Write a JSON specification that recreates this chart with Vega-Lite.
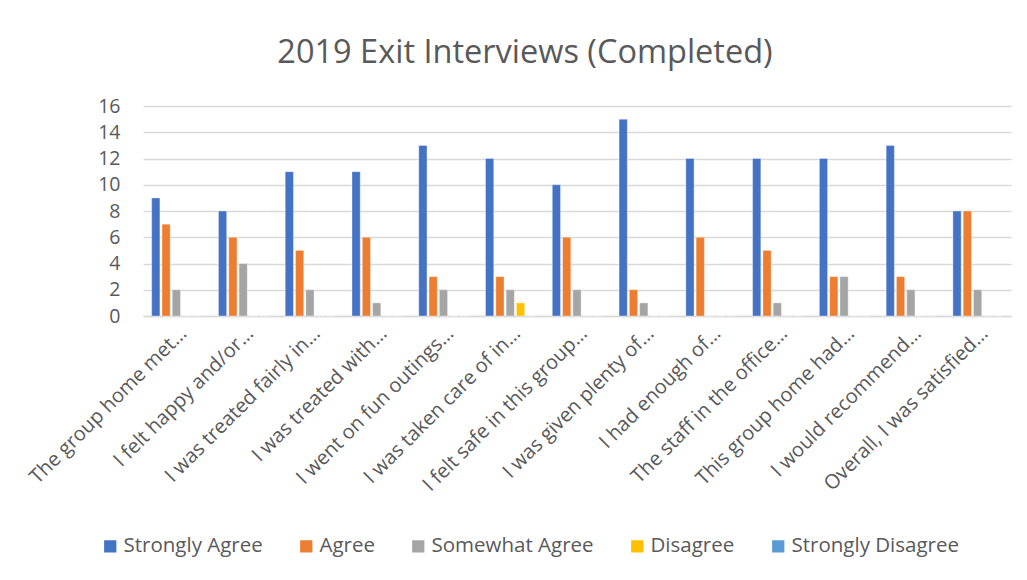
{
  "$schema": "https://vega.github.io/schema/vega-lite/v6.json",
  "width": 868,
  "height": 210,
  "autosize": {"type": "none"},
  "padding": {"left": 143, "top": 106, "right": 16, "bottom": 264},
  "background": "#ffffff",
  "title": {
    "text": "2019 Exit Interviews (Completed)",
    "font": "Open Sans",
    "fontSize": 32.5,
    "fontWeight": "normal",
    "color": "#595959",
    "anchor": "middle",
    "dx": -52,
    "offset": 27
  },
  "data": {
    "values": [
      {"q": "The group home met…", "r": "Strongly Agree", "n": 9},
      {"q": "The group home met…", "r": "Agree", "n": 7},
      {"q": "The group home met…", "r": "Somewhat Agree", "n": 2},
      {"q": "The group home met…", "r": "Disagree", "n": 0},
      {"q": "The group home met…", "r": "Strongly Disagree", "n": 0},
      {"q": "I felt happy and/or…", "r": "Strongly Agree", "n": 8},
      {"q": "I felt happy and/or…", "r": "Agree", "n": 6},
      {"q": "I felt happy and/or…", "r": "Somewhat Agree", "n": 4},
      {"q": "I felt happy and/or…", "r": "Disagree", "n": 0},
      {"q": "I felt happy and/or…", "r": "Strongly Disagree", "n": 0},
      {"q": "I was treated fairly in…", "r": "Strongly Agree", "n": 11},
      {"q": "I was treated fairly in…", "r": "Agree", "n": 5},
      {"q": "I was treated fairly in…", "r": "Somewhat Agree", "n": 2},
      {"q": "I was treated fairly in…", "r": "Disagree", "n": 0},
      {"q": "I was treated fairly in…", "r": "Strongly Disagree", "n": 0},
      {"q": "I was treated with…", "r": "Strongly Agree", "n": 11},
      {"q": "I was treated with…", "r": "Agree", "n": 6},
      {"q": "I was treated with…", "r": "Somewhat Agree", "n": 1},
      {"q": "I was treated with…", "r": "Disagree", "n": 0},
      {"q": "I was treated with…", "r": "Strongly Disagree", "n": 0},
      {"q": "I went on fun outings…", "r": "Strongly Agree", "n": 13},
      {"q": "I went on fun outings…", "r": "Agree", "n": 3},
      {"q": "I went on fun outings…", "r": "Somewhat Agree", "n": 2},
      {"q": "I went on fun outings…", "r": "Disagree", "n": 0},
      {"q": "I went on fun outings…", "r": "Strongly Disagree", "n": 0},
      {"q": "I was taken care of in…", "r": "Strongly Agree", "n": 12},
      {"q": "I was taken care of in…", "r": "Agree", "n": 3},
      {"q": "I was taken care of in…", "r": "Somewhat Agree", "n": 2},
      {"q": "I was taken care of in…", "r": "Disagree", "n": 1},
      {"q": "I was taken care of in…", "r": "Strongly Disagree", "n": 0},
      {"q": "I felt safe in this group…", "r": "Strongly Agree", "n": 10},
      {"q": "I felt safe in this group…", "r": "Agree", "n": 6},
      {"q": "I felt safe in this group…", "r": "Somewhat Agree", "n": 2},
      {"q": "I felt safe in this group…", "r": "Disagree", "n": 0},
      {"q": "I felt safe in this group…", "r": "Strongly Disagree", "n": 0},
      {"q": "I was given plenty of…", "r": "Strongly Agree", "n": 15},
      {"q": "I was given plenty of…", "r": "Agree", "n": 2},
      {"q": "I was given plenty of…", "r": "Somewhat Agree", "n": 1},
      {"q": "I was given plenty of…", "r": "Disagree", "n": 0},
      {"q": "I was given plenty of…", "r": "Strongly Disagree", "n": 0},
      {"q": "I had enough of…", "r": "Strongly Agree", "n": 12},
      {"q": "I had enough of…", "r": "Agree", "n": 6},
      {"q": "I had enough of…", "r": "Somewhat Agree", "n": 0},
      {"q": "I had enough of…", "r": "Disagree", "n": 0},
      {"q": "I had enough of…", "r": "Strongly Disagree", "n": 0},
      {"q": "The staff in the office…", "r": "Strongly Agree", "n": 12},
      {"q": "The staff in the office…", "r": "Agree", "n": 5},
      {"q": "The staff in the office…", "r": "Somewhat Agree", "n": 1},
      {"q": "The staff in the office…", "r": "Disagree", "n": 0},
      {"q": "The staff in the office…", "r": "Strongly Disagree", "n": 0},
      {"q": "This group home had…", "r": "Strongly Agree", "n": 12},
      {"q": "This group home had…", "r": "Agree", "n": 3},
      {"q": "This group home had…", "r": "Somewhat Agree", "n": 3},
      {"q": "This group home had…", "r": "Disagree", "n": 0},
      {"q": "This group home had…", "r": "Strongly Disagree", "n": 0},
      {"q": "I would recommend…", "r": "Strongly Agree", "n": 13},
      {"q": "I would recommend…", "r": "Agree", "n": 3},
      {"q": "I would recommend…", "r": "Somewhat Agree", "n": 2},
      {"q": "I would recommend…", "r": "Disagree", "n": 0},
      {"q": "I would recommend…", "r": "Strongly Disagree", "n": 0},
      {"q": "Overall, I was satisfied…", "r": "Strongly Agree", "n": 8},
      {"q": "Overall, I was satisfied…", "r": "Agree", "n": 8},
      {"q": "Overall, I was satisfied…", "r": "Somewhat Agree", "n": 2},
      {"q": "Overall, I was satisfied…", "r": "Disagree", "n": 0},
      {"q": "Overall, I was satisfied…", "r": "Strongly Disagree", "n": 0}
    ]
  },
  "mark": {"type": "bar", "stroke": "#ffffff", "strokeWidth": 0.6, "strokeOpacity": 0.6},
  "encoding": {
    "x": {
      "field": "q",
      "type": "nominal",
      "sort": null,
      "title": null,
      "scale": {"paddingInner": 0.26, "paddingOuter": 0.13},
      "axis": {
        "labelAngle": -45,
        "labelFont": "Open Sans",
        "labelFontSize": 20,
        "labelColor": "#595959",
        "labelLimit": 400,
        "ticks": false,
        "labelPadding": 7,
        "domainColor": "#d9d9d9",
        "domainWidth": 1.5
      }
    },
    "xOffset": {
      "field": "r",
      "type": "nominal",
      "sort": ["Strongly Agree", "Agree", "Somewhat Agree", "Disagree", "Strongly Disagree"],
      "scale": {"paddingInner": 0.2, "paddingOuter": 0}
    },
    "y": {
      "field": "n",
      "type": "quantitative",
      "title": null,
      "scale": {"domain": [0, 16], "nice": false},
      "axis": {
        "values": [0, 2, 4, 6, 8, 10, 12, 14, 16],
        "labelFont": "Open Sans",
        "labelFontSize": 19.5,
        "labelColor": "#595959",
        "ticks": false,
        "domain": false,
        "labelPadding": 23,
        "gridColor": "#d9d9d9",
        "gridWidth": 1.5
      }
    },
    "color": {
      "field": "r",
      "type": "nominal",
      "sort": ["Strongly Agree", "Agree", "Somewhat Agree", "Disagree", "Strongly Disagree"],
      "scale": {
        "domain": ["Strongly Agree", "Agree", "Somewhat Agree", "Disagree", "Strongly Disagree"],
        "range": ["#4472C4", "#ED7D31", "#A5A5A5", "#FFC000", "#5B9BD5"]
      },
      "legend": {
        "title": null,
        "orient": "none",
        "direction": "horizontal",
        "legendX": -43,
        "legendY": 430,
        "symbolType": "square",
        "symbolSize": 150,
        "symbolStrokeWidth": 0,
        "labelFont": "Open Sans",
        "labelFontSize": 20.5,
        "labelColor": "#595959",
        "labelOffset": 3,
        "columnPadding": 33,
        "labelLimit": 300
      }
    }
  },
  "config": {
    "view": {"stroke": null}
  }
}
